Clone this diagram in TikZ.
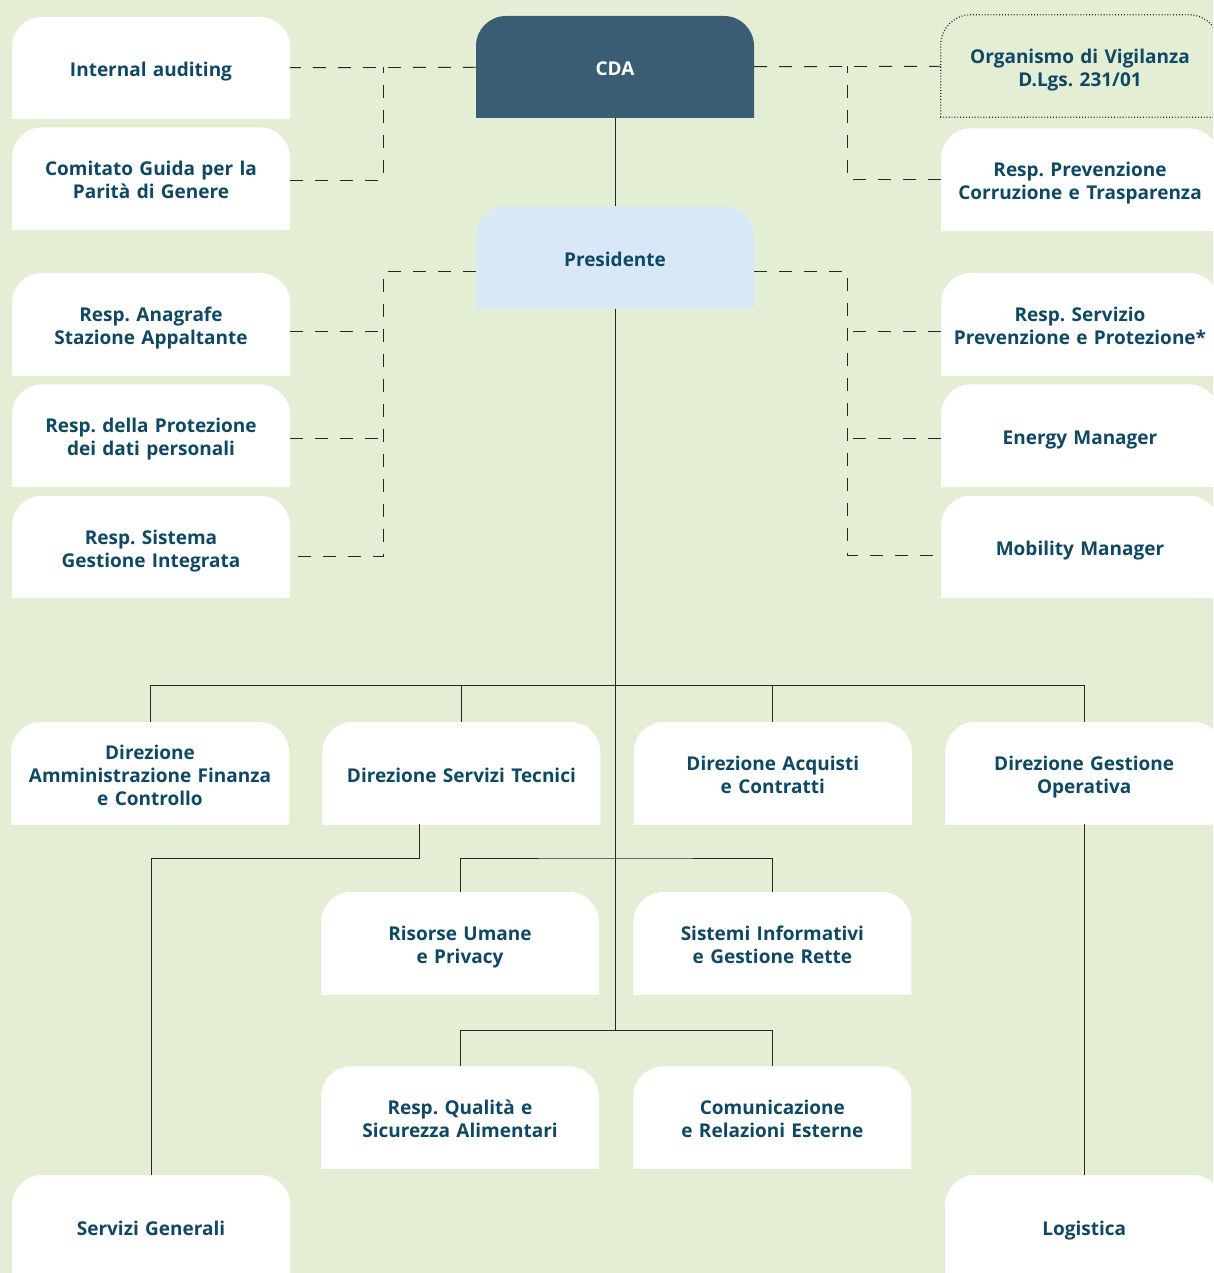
\documentclass[tikz,border=0pt]{standalone}
\usepackage{fontspec}
\setmainfont{Open Sans}
\usetikzlibrary{positioning,calc}
\definecolor{bgreen}{HTML}{E4EED5}
\definecolor{cdablue}{HTML}{3A5D74}
\definecolor{presblue}{HTML}{D8E8F6}
\definecolor{orgtext}{HTML}{0E4862}

\begin{document}
\begin{tikzpicture}[x=1pt,y=-1pt,
box/.style={
% The shape: square at the bottom, round on top
rectangle, inner sep=0pt,
% The size:
minimum width=278pt, minimum height=102pt, text width=278pt,
% The filling, only inside the node
path picture={\fill[#1,rounded corners=30pt]
 ([yshift=-40pt]path picture bounding box.south west) rectangle
 (path picture bounding box.north east);},
% Font, with struts so that every text sits alike
text=orgtext, font=\fontsize{19}{23}\selectfont\bfseries\frenchspacing,
align=center,
execute at begin node={\rule{0pt}{24pt}},
execute at end node={\rule[-6pt]{0pt}{6pt}}},
box/.default=white,
link/.style={draw=black!85, line width=0.9pt},
aux/.style={link, dash pattern=on 13pt off 12pt}]

\useasboundingbox (0,0) rectangle (1213,1273);
\fill[bgreen] (0,0) rectangle (1213,1273);
\clip (0,0) rectangle (1213,1273);

% vertice
\node (cda) [box=cdablue, text=white] at (615,67) {CDA};
\node (pres) [box=presblue, below=88pt of cda] {Presidente};

% staff a sinistra
\node (ia) [box] at (151,68) {Internal auditing};
\node (cg) [box, below=8pt of ia] {Comitato Guida per la\\Parità di Genere};
\node (ra) [box] at (151,324) {Resp. Anagrafe\\Stazione Appaltante};
\node (rp) [box, below=9pt of ra] {Resp. della Protezione\\dei dati personali};
\node (rs) [box, below=9pt of rp] {Resp. Sistema\\Gestione Integrata};

% staff a destra
\node (ov) [box=bgreen] at (1080,66) {Organismo di Vigilanza\\D.Lgs. 231/01};
\node (rpc) [box, below=11pt of ov] {Resp. Prevenzione\\Corruzione e Trasparenza};
\node (rspp) [box] at (1080,324) {Resp. Servizio\\Prevenzione e Protezione*};
\node (em) [box, below=9pt of rspp] {Energy Manager};
\node (mm) [box, below=9pt of em] {Mobility Manager};

% direzioni
\node (dafc) [box] at (150,773) {Direzione\\Amministrazione Finanza\\e Controllo};
\node (dst) [box, right=33pt of dafc] {Direzione Servizi Tecnici};
\node (dac) [box, right=33pt of dst] {Direzione Acquisti\\e Contratti};
\node (dgo) [box, right=33pt of dac] {Direzione Gestione\\Operativa};

% uffici
\node (rup) [box] at (460,943) {Risorse Umane\\e Privacy};
\node (sig) [box, right=34pt of rup] {Sistemi Informativi\\e Gestione Rette};
\node (rqs) [box, below=72pt of rup] {Resp. Qualità e\\Sicurezza Alimentari};
\node (cre) [box, right=34pt of rqs] {Comunicazione\\e Relazioni Esterne};
\node (sg) [box] at (151,1226) {Servizi Generali};
\node (log) [box] at (dgo |- sg) {Logistica};

\draw[link, dotted, line width=1.3pt] (ov.south east) -- (ov.south west)
 -- ([yshift=-30pt]ov.north west) arc[start angle=180, end angle=90, radius=30pt]
 -- ([xshift=-30pt]ov.north east) arc[start angle=90, end angle=0, radius=30pt]
 -- (ov.south east);

% linee di dipendenza
\coordinate (b1) at ($(pres.south |- dst.north)+(0,-36)$);
\coordinate (b2) at ($(pres.south |- dst.south)!.5!(pres.south |- rup.north)$);
\coordinate (b3) at ($(pres.south |- rup.south)!.5!(pres.south |- rqs.north)$);
\draw[link] (cda) -- (pres);
\draw[link] (pres) -- (b3);
\draw[link] (dafc.north) |- (b1) -| (dgo.north);
\draw[link] (dst.north) -- (dst.north |- b1);
\draw[link] (dac.north) -- (dac.north |- b1);
\draw[link] (rup.north) |- (b2) -| (sig.north);
\draw[link] (rqs.north) |- (b3) -| (cre.north);
\draw[link] ([xshift=-42pt]dst.south) |- (sg.north |- b2) -- (sg.north);
\draw[link] (dgo) -- (log);

% staff
\coordinate (tl) at ($(ia.east)!.5!(cda.west)$);
\coordinate (tr) at ($(cda.east)!.5!(ov.west)$);
\coordinate (lv) at ($(rs.east)!.5!(rs.east -| pres.west)$);
\coordinate (rv) at ($(mm.west)!.5!(mm.west -| pres.east)$);
\draw[aux] (cda) -- (ia);
\draw[aux] ([yshift=-2pt]cg.east) -| (tl);
\draw[aux] (cda) -- (ov);
\draw[aux] (rpc.west) -| (tr);
\draw[aux] ([yshift=-14pt]pres.west) -| ([yshift=-10pt]lv) -- ([yshift=-10pt]rs.east);
\draw[aux] ([yshift=-7pt]ra.east) -- ([yshift=-7pt]ra.east -| lv);
\draw[aux] ([yshift=-3pt]rp.east) -- ([yshift=-3pt]rp.east -| lv);
\draw[aux] ([yshift=-14pt]pres.east) -| ([yshift=-9pt]rv) -- ([yshift=-9pt]mm.west);
\draw[aux] ([yshift=-7pt]rspp.west) -- ([yshift=-7pt]rspp.west -| rv);
\draw[aux] ([yshift=-3pt]em.west) -- ([yshift=-3pt]em.west -| rv);
\end{tikzpicture}
\end{document}
